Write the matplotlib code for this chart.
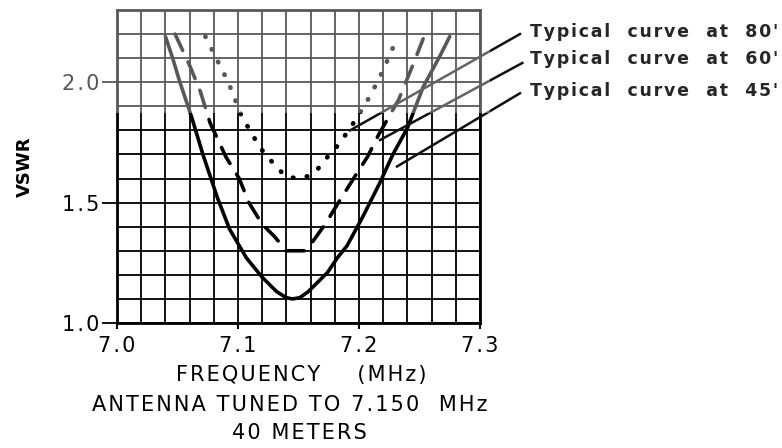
import matplotlib
matplotlib.use("Agg")
import matplotlib.pyplot as plt
from matplotlib.patches import Rectangle

# --- data ---
freq_45 = [7.040, 7.046, 7.052, 7.062, 7.071, 7.083, 7.093, 7.107, 7.120, 7.132, 7.140, 7.145,
           7.151, 7.158, 7.166, 7.174, 7.182, 7.190, 7.203, 7.217, 7.228, 7.240, 7.253, 7.267, 7.275]
vswr_45 = [2.19, 2.10, 2.00, 1.85, 1.70, 1.52, 1.39, 1.27, 1.19, 1.13, 1.105, 1.10,
           1.105, 1.13, 1.17, 1.21, 1.27, 1.32, 1.44, 1.58, 1.70, 1.81, 1.98, 2.11, 2.19]

freq_60 = [7.048, 7.060, 7.069, 7.077, 7.090, 7.101, 7.109, 7.120, 7.130, 7.140, 7.148, 7.155,
           7.162, 7.172, 7.183, 7.198, 7.207, 7.216, 7.233, 7.246, 7.253]
vswr_60 = [2.20, 2.07, 1.96, 1.83, 1.69, 1.60, 1.50, 1.41, 1.36, 1.30, 1.30, 1.30,
           1.34, 1.41, 1.50, 1.62, 1.69, 1.78, 1.93, 2.09, 2.18]

freq_80 = [7.073, 7.083, 7.092, 7.102, 7.112, 7.121, 7.128, 7.139, 7.149, 7.158, 7.166, 7.174,
           7.183, 7.190, 7.198, 7.210, 7.220, 7.232]
vswr_80 = [2.19, 2.09, 2.00, 1.87, 1.78, 1.71, 1.67, 1.61, 1.60, 1.61, 1.64, 1.69,
           1.74, 1.79, 1.85, 1.95, 2.05, 2.19]

x_ticks = [7.0, 7.1, 7.2, 7.3]
x_tick_labels = ["7.0", "7.1", "7.2", "7.3"]
y_ticks = [1.0, 1.5, 2.0]
y_tick_labels = ["1.0", "1.5", "2.0"]

labels = ["Typical  curve  at  80'", "Typical  curve  at  60'", "Typical  curve  at  45'"]
label_pos = [(7.341, 2.21), (7.341, 2.095), (7.341, 1.963)]
leader_start = [(7.333, 2.20), (7.335, 2.08), (7.333, 1.954)]
leader_end = [(7.1926, 1.80), (7.2174, 1.76), (7.2314, 1.65)]

HS = "\u200a"


def spaced(s):
    return HS.join(s)


# --- figure ---
W, H = 782, 448
fig = plt.figure(figsize=(W / 100, H / 100), dpi=100)
ax = fig.add_axes([117 / W, (H - 323) / H, (480 - 117) / W, (323 - 10) / H])

ax.set_xlim(7.0, 7.3)
ax.set_ylim(1.0, 2.3)

# grid
minor_x = [7.0 + 0.02 * i for i in range(16)]
minor_y = [1.0 + 0.1 * i for i in range(14)]
ax.set_xticks(minor_x, minor=True)
ax.set_yticks(minor_y, minor=True)
ax.grid(which="both", color="black", linewidth=1.3, zorder=1)
ax.set_axisbelow(True)
ax.tick_params(which="minor", length=0)

ax.set_xticks(x_ticks)
ax.set_xticklabels([spaced(t) for t in x_tick_labels])
ax.set_yticks(y_ticks)
ax.set_yticklabels([spaced(t) for t in y_tick_labels])
ax.tick_params(axis="y", which="major", length=11, width=1.3, pad=2, labelsize=15)
ax.tick_params(axis="x", which="major", length=4, width=1.5, pad=5, labelsize=15)
for s in ax.spines.values():
    s.set_linewidth(2.0)

# curves
ax.plot(freq_45, vswr_45, color="black", lw=2.6, solid_capstyle="round", zorder=3)
ax.plot(freq_60, vswr_60, color="black", lw=2.6, linestyle=(0, (5, 3.5)),
        dash_capstyle="round", zorder=3)
ax.plot(freq_80, vswr_80, color="black", lw=3.4, linestyle=(0, (0.1, 2.9)),
        dash_capstyle="round", zorder=3)

# labels with leader lines
for txt, (tx, ty), (sx, sy), (ex, ey) in zip(labels, label_pos, leader_start, leader_end):
    ax.text(tx, ty, spaced(txt), ha="left", va="center", fontsize=12.5, fontweight="bold",
            color="#262626", clip_on=False)
    ax.plot([sx, ex], [sy, ey], color="#111111", lw=1.8, clip_on=False, zorder=4)

ax.set_ylabel("VSWR", fontsize=13, fontweight="bold", labelpad=20)
fig.text(301 / W, 1 - 375 / H, spaced("FREQUENCY    (MHz)"), ha="center", va="center", fontsize=15)
fig.text(290 / W, 1 - 405 / H, spaced("ANTENNA TUNED TO 7.150  MHz"), ha="center", va="center",
         fontsize=15)
fig.text(299 / W, 1 - 433 / H, spaced("40 METERS"), ha="center", va="center", fontsize=15)

# faded band at the top of the scan
fig.patches.append(Rectangle((0, 1 - 113 / H), 490 / W, 113 / H, transform=fig.transFigure,
                             facecolor="white", alpha=0.35, edgecolor="none", zorder=10))

fig.savefig("out.png", dpi=100)
